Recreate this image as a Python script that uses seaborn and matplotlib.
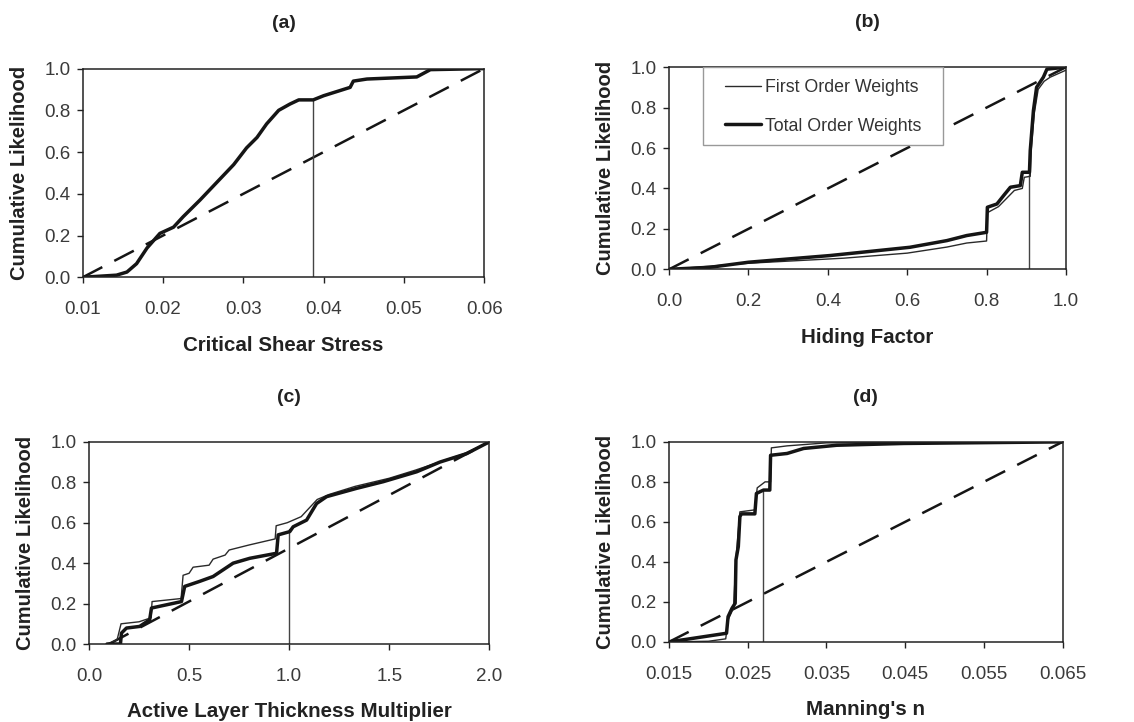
import numpy as np
import pandas as pd
import matplotlib
matplotlib.use("Agg")
import matplotlib.pyplot as plt
import matplotlib.patches as mpatches
import seaborn as sns

# ---------------- data ----------------
# (a) Critical Shear Stress
a_x = [0.010, 0.0142, 0.0155, 0.0167, 0.0180, 0.0196, 0.0213, 0.0225, 0.0246, 0.0267,
       0.0288, 0.0304, 0.0317, 0.0329, 0.0344, 0.0358, 0.0369, 0.0387, 0.0400, 0.0433,
       0.0437, 0.0454, 0.0516, 0.0533, 0.0600]
a_y = [0.0, 0.01, 0.025, 0.065, 0.14, 0.21, 0.24, 0.29, 0.37, 0.455,
       0.54, 0.62, 0.67, 0.735, 0.80, 0.83, 0.85, 0.85, 0.87, 0.91,
       0.94, 0.95, 0.96, 0.995, 1.0]
a_vline = (0.0387, 0.85)
a_uniform = (0.01, 0.06)

# (b) Hiding Factor
b_total_x = [0.0, 0.103, 0.2, 0.405, 0.607, 0.70, 0.75, 0.80, 0.802, 0.826, 0.843, 0.86,
             0.885, 0.89, 0.908, 0.91, 0.918, 0.926, 0.943, 0.952, 1.0]
b_total_y = [0.0, 0.01, 0.035, 0.068, 0.109, 0.142, 0.167, 0.183, 0.307, 0.323, 0.365, 0.406,
             0.414, 0.48, 0.48, 0.587, 0.785, 0.90, 0.95, 0.99, 1.0]
b_first_x = [0.0, 0.2, 0.44, 0.6, 0.7, 0.75, 0.80, 0.802, 0.83, 0.85, 0.87, 0.89, 0.895,
             0.91, 0.912, 0.92, 0.93, 0.945, 0.96, 1.0]
b_first_y = [0.0, 0.03, 0.055, 0.08, 0.11, 0.13, 0.14, 0.28, 0.31, 0.35, 0.39, 0.40, 0.455,
             0.46, 0.58, 0.77, 0.89, 0.93, 0.95, 0.985]
b_vline = (0.906, 0.47)
b_uniform = (0.0, 1.0)

# (c) Active Layer Thickness Multiplier
c_total_x = [0.09, 0.157, 0.162, 0.187, 0.253, 0.303, 0.312, 0.387, 0.462, 0.478, 0.553, 0.62,
             0.67, 0.72, 0.803, 0.937, 0.945, 1.003, 1.02, 1.087, 1.137, 1.187, 1.337, 1.47,
             1.637, 1.753, 1.887, 2.0]
c_total_y = [0.0, 0.0, 0.054, 0.079, 0.087, 0.12, 0.178, 0.194, 0.21, 0.285, 0.31, 0.334,
             0.367, 0.40, 0.424, 0.449, 0.54, 0.556, 0.58, 0.613, 0.695, 0.729, 0.77, 0.803,
             0.852, 0.90, 0.942, 1.0]
c_first_x = [0.09, 0.14, 0.16, 0.25, 0.31, 0.315, 0.46, 0.47, 0.50, 0.52, 0.6, 0.62, 0.68,
             0.7, 0.8, 0.93, 0.935, 0.99, 1.06, 1.14, 1.2, 1.33, 1.5, 1.63, 1.75, 1.87, 2.0]
c_first_y = [0.0, 0.02, 0.10, 0.11, 0.13, 0.21, 0.225, 0.34, 0.35, 0.38, 0.39, 0.42, 0.44,
             0.465, 0.49, 0.52, 0.585, 0.60, 0.63, 0.715, 0.74, 0.78, 0.82, 0.86, 0.90, 0.94, 1.0]
c_vline = (1.0, 0.57)
c_uniform = (0.1, 2.0)

# (d) Manning's n
d_total_x = [0.015, 0.01725, 0.0223, 0.0225, 0.0230, 0.0234, 0.0235, 0.0238, 0.0240, 0.0242,
             0.0259, 0.0261, 0.0270, 0.0278, 0.0279, 0.0300, 0.0321, 0.0363, 0.0448, 0.065]
d_total_y = [0.0, 0.013, 0.043, 0.126, 0.168, 0.193, 0.41, 0.476, 0.626, 0.64,
             0.64, 0.742, 0.759, 0.759, 0.933, 0.942, 0.967, 0.983, 0.992, 1.0]
d_first_x = [0.015, 0.020, 0.0222, 0.0225, 0.0232, 0.0235, 0.0240, 0.0259, 0.0262, 0.0272,
             0.0279, 0.0280, 0.0300, 0.0350, 0.065]
d_first_y = [0.0, 0.003, 0.015, 0.11, 0.17, 0.42, 0.65, 0.66, 0.77, 0.80,
             0.80, 0.97, 0.98, 0.995, 1.0]
d_vline = (0.027, 0.76)
d_uniform = (0.015, 0.065)

titles = ["(a)", "(b)", "(c)", "(d)"]
xlabels = ["Critical Shear Stress", "Hiding Factor",
           "Active Layer Thickness Multiplier", "Manning's n"]
xticks_list = [[0.01, 0.02, 0.03, 0.04, 0.05, 0.06],
               [0.0, 0.2, 0.4, 0.6, 0.8, 1.0],
               [0.0, 0.5, 1.0, 1.5, 2.0],
               [0.015, 0.025, 0.035, 0.045, 0.055, 0.065]]
xtick_fmt = ["{:.2f}", "{:.1f}", "{:.1f}", "{:.3f}"]
yticks = [0.0, 0.2, 0.4, 0.6, 0.8, 1.0]
ylabel = "Cumulative Likelihood"
legend_labels = ["First Order Weights", "Total Order Weights"]

# ---------------- style ----------------
sns.set_theme(style="ticks")
plt.rcParams["font.family"] = ["Liberation Sans", "DejaVu Sans"]
plt.rcParams["axes.edgecolor"] = "#222222"
plt.rcParams["axes.linewidth"] = 1.1

fig = plt.figure(figsize=(11.34, 7.22), dpi=100)
fig.patch.set_facecolor("white")

positions = [
    [0.073, 0.616, 0.354, 0.289],
    [0.590, 0.627, 0.350, 0.280],
    [0.0785, 0.108, 0.353, 0.280],
    [0.590, 0.111, 0.347, 0.277],
]

INK = "#151515"
THIN = "#2a2a2a"
TXT = "#222222"
TICKTXT = "#3a3a3a"

panels = [
    (None, None, a_x, a_y, a_vline, a_uniform),
    (b_first_x, b_first_y, b_total_x, b_total_y, b_vline, b_uniform),
    (c_first_x, c_first_y, c_total_x, c_total_y, c_vline, c_uniform),
    (d_first_x, d_first_y, d_total_x, d_total_y, d_vline, d_uniform),
]

for i, (pos, (fx, fy, tx, ty, vl, un)) in enumerate(zip(positions, panels)):
    ax = fig.add_axes(pos)
    # uniform reference (dashed)
    uni = pd.DataFrame({"x": list(un), "y": [0.0, 1.0]})
    sns.lineplot(data=uni, x="x", y="y", ax=ax, color=INK, lw=1.8,
                 linestyle=(0, (8.8, 5.4)), estimator=None, sort=False)
    # vertical marker line
    ax.plot([vl[0], vl[0]], [0.0, vl[1]], color="#444444", lw=1.0)
    # curves
    if fx is not None:
        df_f = pd.DataFrame({"x": fx, "y": fy})
        sns.lineplot(data=df_f, x="x", y="y", ax=ax, color=THIN, lw=1.0,
                     estimator=None, sort=False, label=legend_labels[0])
    df_t = pd.DataFrame({"x": tx, "y": ty})
    sns.lineplot(data=df_t, x="x", y="y", ax=ax, color=INK, lw=2.5,
                 estimator=None, sort=False,
                 label=legend_labels[1] if fx is not None else None)

    xt = xticks_list[i]
    ax.set_xlim(xt[0], xt[-1])
    ax.set_ylim(0, 1)
    ax.set_xticks(xt)
    ax.set_xticklabels([xtick_fmt[i].format(v) for v in xt], fontsize=13.5, color=TICKTXT)
    ax.set_yticks(yticks)
    ax.set_yticklabels([f"{v:.1f}" for v in yticks], fontsize=13.5, color=TICKTXT)
    ax.tick_params(axis="both", direction="out", length=4, width=1, color="#222222")
    ax.tick_params(axis="x", pad=13.3)
    ax.tick_params(axis="y", pad=5)
    ax.set_xlabel(xlabels[i], fontsize=14.8, fontweight="bold", color=TXT, labelpad=12.5)
    ax.set_ylabel(ylabel, fontsize=14.5, fontweight="bold", color=TXT, labelpad=11)
    ax.set_title(titles[i], fontsize=14, fontweight="bold", color=TXT, pad=29)
    for s in ax.spines.values():
        s.set_visible(True)
    ax.set_facecolor("white")
    ax.grid(False)

    if i == 1:
        # legend frame (opaque box in the upper-left of the panel)
        frame = mpatches.Rectangle((0.086, 0.614), 0.605, 0.386, transform=ax.transAxes,
                                   facecolor="white", edgecolor="#999999", lw=1.0, zorder=3)
        ax.add_patch(frame)
        leg = ax.legend(loc="upper left", bbox_to_anchor=(0.141, 0.94), fontsize=12.8,
                        frameon=False, handlelength=2.0, borderpad=0, labelspacing=1.2,
                        handletextpad=0.25, borderaxespad=0)
        leg.set_zorder(5)
        for t in leg.get_texts():
            t.set_color("#333333")
    else:
        lg = ax.get_legend()
        if lg is not None:
            lg.remove()

fig.savefig("out.png", dpi=100, facecolor="white")
